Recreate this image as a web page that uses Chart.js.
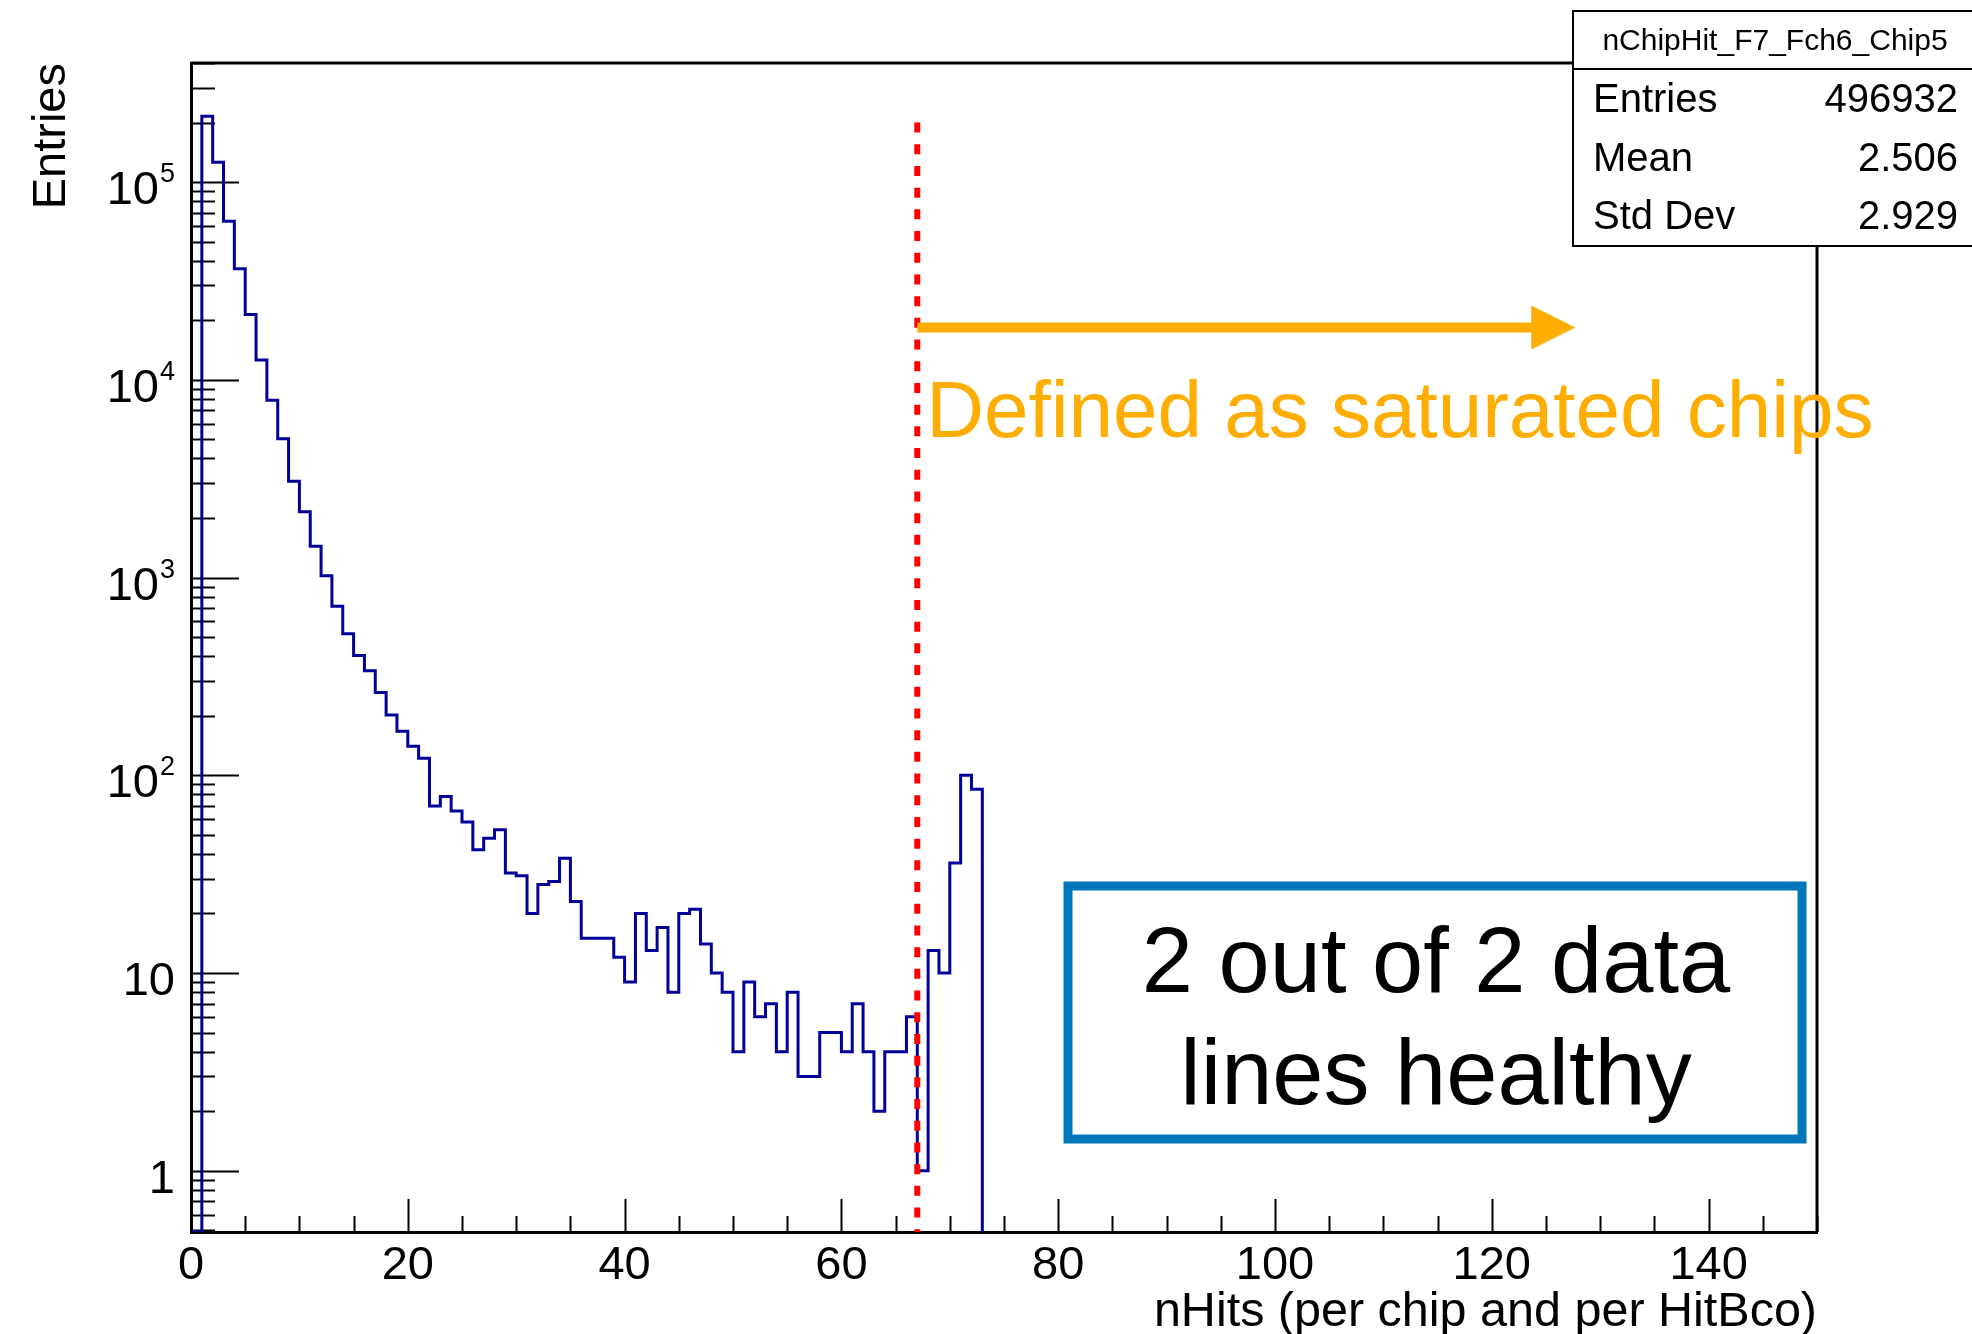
<!DOCTYPE html>
<html>
<head>
<meta charset="utf-8">
<script src="https://cdn.jsdelivr.net/npm/chart.js@4"></script>
<style>
  html, body { margin: 0; padding: 0; background: #fff; }
  canvas { display: block; }
</style>
</head>
<body>
<canvas id="chart" width="1972" height="1334"></canvas>
<script>
// Histogram contents, one entry per 1-wide bin starting at nHits = 0
const binWidth = 1;
const counts = [
  0, 215000, 126000, 63400, 36400, 21400, 12600, 7880, 5040, 3070,
  2150, 1440, 1020, 715, 520, 403, 338, 262, 202, 167,
  140, 122, 70, 78, 66, 58, 42, 48, 53, 32,
  31, 20, 28, 29, 38, 23, 15, 15, 15, 12,
  9, 20, 13, 17, 8, 20, 21, 14, 10, 8,
  4, 9, 6, 7, 4, 8, 3, 3, 5, 5,
  4, 7, 4, 2, 4, 4, 6, 1, 13, 10,
  36, 100, 85,
];

// Axis ranges and tick labels
const xMin = 0;
const xMax = 150;
const xTickLabels = [0, 20, 40, 60, 80, 100, 120, 140];
const xMinorStep = 5;
const yMin = 0.49;
const yMax = 4.0e5;
const yTickValues = [1, 10, 100, 1000, 10000, 100000];
const yTickLabels = ['1', '10', '10^2', '10^3', '10^4', '10^5'];

// Stats box
const statsTitle = 'nChipHit_F7_Fch6_Chip5';
const statsNames = ['Entries', 'Mean', 'Std Dev'];
const statsValues = ['496932', '2.506', '2.929'];

// Annotations
const cutValue = 67;
const cutTop = 2.0e5;
const arrowEnd = 127.7;
const arrowLevel = 1.84e4;
const cutText = 'Defined as saturated chips';
const boxLines = ['2 out of 2 data', 'lines healthy'];

const FONT = '"Liberation Sans", Arial, Helvetica, sans-serif';

// ROOT-like frame, ticks, labels and annotations
const rootDecor = {
  id: 'rootDecor',
  beforeDatasetsDraw(chart) {
    const ctx = chart.ctx;
    const area = chart.chartArea;
    const xs = chart.scales.x;
    const ys = chart.scales.y;
    ctx.save();
    ctx.strokeStyle = '#000';

    // top and right sides of the frame
    ctx.lineWidth = 3;
    ctx.beginPath();
    ctx.moveTo(area.left, area.top);
    ctx.lineTo(area.right, area.top);
    ctx.lineTo(area.right, area.bottom);
    ctx.stroke();

    ctx.lineWidth = 2;
    ctx.beginPath();
    // x ticks: long every 20, short every 5
    for (let v = xMin; v <= xMax; v += xMinorStep) {
      const px = Math.round(xs.getPixelForValue(v)) + 0.5;
      const len = xTickLabels.includes(v) ? 33 : 16;
      ctx.moveTo(px, area.bottom);
      ctx.lineTo(px, area.bottom - len);
    }
    // y ticks: long at decades, short at 2..9
    for (let d = -1; d <= 5; d++) {
      for (let m = 1; m <= 9; m++) {
        const v = m * Math.pow(10, d);
        if (v < yMin || v > yMax * 1.001) continue;
        const py = Math.round(ys.getPixelForValue(v)) + 0.5;
        const len = m === 1 ? 48 : 24;
        ctx.moveTo(area.left, py);
        ctx.lineTo(area.left + len, py);
      }
    }
    ctx.stroke();
    ctx.restore();
  },
  afterDatasetsDraw(chart) {
    const ctx = chart.ctx;
    const area = chart.chartArea;
    const xs = chart.scales.x;
    const ys = chart.scales.y;
    ctx.save();

    // red dashed cut line
    const cx = xs.getPixelForValue(cutValue);
    ctx.strokeStyle = '#ff0000';
    ctx.lineWidth = 6;
    ctx.setLineDash([10, 11.7]);
    ctx.beginPath();
    ctx.moveTo(cx, ys.getPixelForValue(cutTop));
    ctx.lineTo(cx, area.bottom);
    ctx.stroke();
    ctx.setLineDash([]);

    // orange arrow
    const ay = ys.getPixelForValue(arrowLevel);
    const tip = xs.getPixelForValue(arrowEnd);
    const headLen = 44;
    const headHalf = 22;
    ctx.strokeStyle = '#ffad00';
    ctx.fillStyle = '#ffad00';
    ctx.lineWidth = 10;
    ctx.beginPath();
    ctx.moveTo(cx, ay);
    ctx.lineTo(tip - headLen + 2, ay);
    ctx.stroke();
    ctx.beginPath();
    ctx.moveTo(tip - headLen, ay - headHalf);
    ctx.lineTo(tip, ay);
    ctx.lineTo(tip - headLen, ay + headHalf);
    ctx.closePath();
    ctx.fill();

    // orange label below the arrow
    ctx.font = '80px ' + FONT;
    ctx.textAlign = 'left';
    ctx.textBaseline = 'alphabetic';
    ctx.fillText(cutText, cx + 9, ay + 110);
    ctx.restore();
  },
  afterDraw(chart) {
    const ctx = chart.ctx;
    const area = chart.chartArea;
    const ys = chart.scales.y;
    ctx.save();
    ctx.fillStyle = '#000';

    // y tick labels with superscript exponents
    const rightEdge = area.left - 16;
    yTickValues.forEach((v, i) => {
      const py = ys.getPixelForValue(v);
      const parts = yTickLabels[i].split('^');
      ctx.textBaseline = 'alphabetic';
      ctx.textAlign = 'right';
      if (parts.length === 2) {
        ctx.font = '27px ' + FONT;
        const ew = ctx.measureText(parts[1]).width;
        ctx.fillText(parts[1], rightEdge, py);
        ctx.font = '47px ' + FONT;
        ctx.fillText(parts[0], rightEdge - ew - 1, py + 22);
      } else {
        ctx.font = '47px ' + FONT;
        ctx.fillText(parts[0], rightEdge, py + 22);
      }
    });

    // y axis title
    ctx.save();
    ctx.translate(65, area.top);
    ctx.rotate(-Math.PI / 2);
    ctx.font = '47px ' + FONT;
    ctx.textAlign = 'right';
    ctx.fillText('Entries', 0, 0);
    ctx.restore();

    // stats box
    const bx = 1573, by = 11, bw = 410, bh = 235;
    ctx.fillStyle = '#fff';
    ctx.fillRect(bx, by, bw, bh);
    ctx.strokeStyle = '#000';
    ctx.lineWidth = 2;
    ctx.strokeRect(bx, by, bw, bh);
    ctx.beginPath();
    ctx.moveTo(bx, 69);
    ctx.lineTo(bx + bw, 69);
    ctx.stroke();
    ctx.fillStyle = '#000';
    ctx.font = '30px ' + FONT;
    ctx.textAlign = 'center';
    ctx.fillText(statsTitle, 1775, 50);
    ctx.font = '40px ' + FONT;
    const rowBase = [112, 171, 229];
    statsNames.forEach((name, i) => {
      ctx.textAlign = 'left';
      ctx.fillText(name, 1593, rowBase[i]);
      ctx.textAlign = 'right';
      ctx.fillText(statsValues[i], 1958, rowBase[i]);
    });

    // blue framed comment
    ctx.strokeStyle = '#0077bb';
    ctx.lineWidth = 9;
    ctx.strokeRect(1068, 886, 1802 - 1068, 1139 - 886);
    ctx.fillStyle = '#000';
    ctx.font = '92px ' + FONT;
    ctx.textAlign = 'center';
    ctx.fillText(boxLines[0], 1436, 992);
    ctx.fillText(boxLines[1], 1436, 1104);
    ctx.restore();
  },
};

// Step outline: empty bins sit on the bottom of the log axis, as ROOT draws them
const points = counts.map((c, i) => ({ x: i * binWidth, y: c > 0 ? c : yMin }));
points.push({ x: counts.length * binWidth, y: yMin });

new Chart(document.getElementById('chart'), {
  type: 'line',
  data: {
    datasets: [
      {
        label: 'nChipHit_F7_Fch6_Chip5',
        data: points,
        stepped: 'before',
        borderColor: '#000099',
        borderWidth: 3,
        pointRadius: 0,
        fill: false,
      },
    ],
  },
  options: {
    responsive: false,
    animation: false,
    devicePixelRatio: 1,
    layout: { padding: { left: 0, top: 63, right: 155, bottom: 0 } },
    plugins: { legend: { display: false }, tooltip: { enabled: false } },
    scales: {
      x: {
        type: 'linear',
        min: xMin,
        max: xMax,
        grid: { display: false, drawTicks: false },
        border: { display: true, color: '#000', width: 3 },
        afterFit: (scale) => { scale.height = 102; },
        afterBuildTicks: (scale) => {
          scale.ticks = xTickLabels.map((v) => ({ value: v }));
        },
        ticks: {
          color: '#000',
          padding: 6,
          maxRotation: 0,
          autoSkip: false,
          font: { family: FONT, size: 47 },
        },
        title: {
          display: true,
          text: 'nHits (per chip and per HitBco)',
          align: 'end',
          color: '#000',
          font: { family: FONT, size: 48.5, lineHeight: 0.9 },
          padding: { top: 0, bottom: 0 },
        },
      },
      y: {
        type: 'logarithmic',
        min: yMin,
        max: yMax,
        grid: { display: false, drawTicks: false },
        border: { display: true, color: '#000', width: 3 },
        afterFit: (scale) => { scale.width = 191; },
        ticks: { display: false },
      },
    },
  },
  plugins: [rootDecor],
});
</script>
</body>
</html>
